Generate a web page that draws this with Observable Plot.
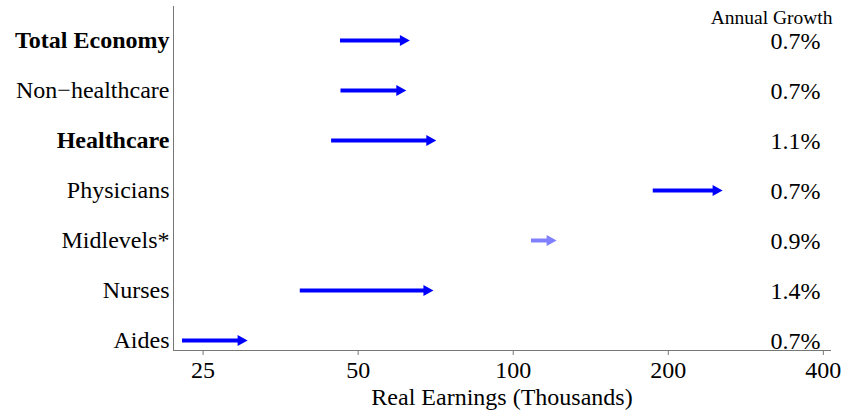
<!DOCTYPE html>
<html>
<head>
<meta charset="utf-8">
<script src="https://cdn.jsdelivr.net/npm/d3@7"></script>
<script src="https://cdn.jsdelivr.net/npm/@observablehq/plot@0.6"></script>
<style>
  html, body { margin: 0; padding: 0; background: #fff; }
  #chart svg { display: block; font-family: "Liberation Serif", "Times New Roman", serif; }
  #chart svg text { font-family: "Liberation Serif", "Times New Roman", serif; }
</style>
</head>
<body>
<div id="chart"></div>
<script>
const categories = ["Total Economy", "Non\u2212healthcare", "Healthcare", "Physicians", "Midlevels*", "Nurses", "Aides"];
const startEarnings = [46.2, 46.3, 44.4, 187.0, 108.5, 38.6, 22.8];
const endEarnings = [63.0, 62.0, 70.9, 255.0, 121.4, 70.0, 30.5];
const annualGrowth = ["0.7%", "0.7%", "1.1%", "0.7%", "0.9%", "1.4%", "0.7%"];
const boldCategories = ["Total Economy", "Healthcare"];
const partialCategories = ["Midlevels*"];
const xTicks = [25, 50, 100, 200, 400];
const xDomain = [21.9, 413];
const xLabel = "Real Earnings (Thousands)";
const growthHeader = "Annual Growth";

const rows = categories.map((c, i) => ({
  category: c,
  start: startEarnings[i],
  end: endEarnings[i],
  growth: annualGrowth[i]
}));

const blue = "#0000ff";
const lightBlue = "#8080ff";
const colorOf = d => partialCategories.includes(d.category) ? lightBlue : blue;

// right-pointing filled arrowhead whose tip sits at the data point
const arrowHead = {
  draw(ctx) {
    ctx.moveTo(0, 0);
    ctx.lineTo(-10, -5.5);
    ctx.lineTo(-10, 5.5);
    ctx.closePath();
  }
};

const font = "'Liberation Serif', 'Times New Roman', serif";

const chart = Plot.plot({
  width: 845,
  height: 410,
  marginLeft: 173,
  marginRight: 15,
  marginTop: 6,
  marginBottom: 60,
  style: {fontFamily: font, fontSize: "24px", color: "black", background: "white"},
  x: {type: "log", domain: xDomain, axis: null},
  y: {type: "point", domain: categories, padding: 0, insetTop: 34, insetBottom: 10, axis: null},
  marks: [
    Plot.frame({anchor: "left", stroke: "#777"}),
    Plot.frame({anchor: "bottom", stroke: "#777"}),
    Plot.axisX({
      ticks: xTicks,
      tickFormat: d => String(d),
      tickSize: 5,
      tickPadding: 5,
      color: "#777",
      fill: "black",
      fontSize: 24,
      fontFamily: font,
      label: null
    }),
    Plot.text([xLabel], {
      frameAnchor: "bottom",
      lineAnchor: "middle",
      text: d => d,
      dy: 47,
      fontSize: 24,
      fontFamily: font,
      fill: "black"
    }),
    Plot.ruleY(rows, {
      y: "category",
      x1: "start",
      x2: "end",
      stroke: colorOf,
      strokeWidth: 4,
      insetRight: 7
    }),
    Plot.dot(rows, {
      y: "category",
      x: "end",
      symbol: arrowHead,
      fill: colorOf,
      stroke: null,
      r: 5
    }),
    Plot.text(rows.filter(d => boldCategories.includes(d.category)), {
      y: "category",
      text: "category",
      frameAnchor: "left",
      textAnchor: "end",
      dx: -4,
      fontSize: 24,
      fontWeight: "bold",
      fontFamily: font,
      fill: "black"
    }),
    Plot.text(rows.filter(d => !boldCategories.includes(d.category)), {
      y: "category",
      text: "category",
      frameAnchor: "left",
      textAnchor: "end",
      dx: -4,
      fontSize: 24,
      fontFamily: font,
      fill: "black"
    }),
    Plot.text(rows, {
      y: "category",
      text: "growth",
      frameAnchor: "right",
      textAnchor: "end",
      dx: -10,
      dy: 1,
      fontSize: 24,
      fontFamily: font,
      fill: "black"
    }),
    Plot.text([growthHeader], {
      text: d => d,
      frameAnchor: "top-right",
      lineAnchor: "middle",
      textAnchor: "end",
      dx: 2,
      dy: 11,
      fontSize: 19.5,
      fontFamily: font,
      fill: "black"
    })
  ]
});

document.getElementById("chart").appendChild(chart);
</script>
</body>
</html>
